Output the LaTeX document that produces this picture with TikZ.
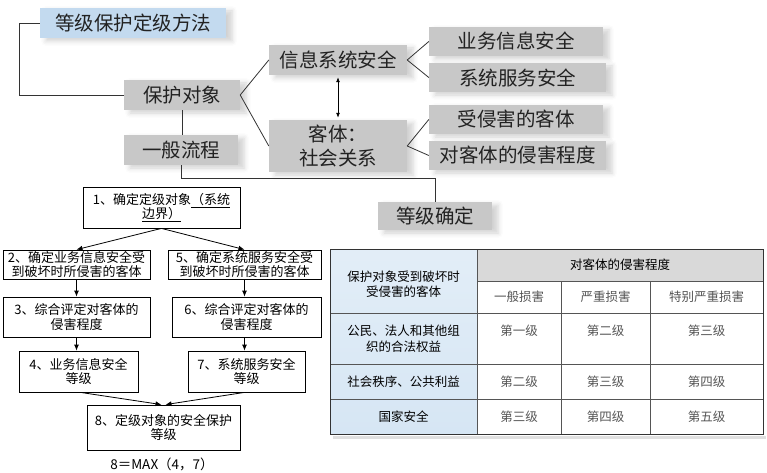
\documentclass[tikz,border=0pt]{standalone}
\usepackage{fontspec}
\setmainfont{Noto Sans CJK SC}
\usetikzlibrary{arrows.meta,shadows.blur,calc}
\definecolor{boxgray}{HTML}{C8C8C8}
\definecolor{titleblue}{HTML}{C3DAEF}
\definecolor{cellblue}{HTML}{D6E6F4}
\definecolor{headgray}{HTML}{D9D9D9}
\definecolor{valgray}{HTML}{555555}
\definecolor{linegray}{HTML}{333333}
\definecolor{textdark}{HTML}{222222}
\begin{document}
\begin{tikzpicture}[x=1pt,y=-1pt,
  gbox/.style={fill=boxgray, draw=none, inner sep=0pt, align=center, text=textdark,
    font=\fontsize{19.5}{24}\selectfont,
    blur shadow={shadow xshift=6pt, shadow yshift=-3pt, shadow opacity=18, shadow blur radius=5pt}},
  fbox/.style={draw=black, line width=0.8pt, fill=white, inner sep=0pt, align=center,
    font=\fontsize{13}{14.5}\selectfont},
  conn/.style={draw=linegray, line width=0.8pt},
  farrow/.style={draw=black, line width=0.8pt, -{Latex[length=6pt,width=5pt]}},
  tcell/.style={inner sep=0pt, align=center, font=\fontsize{12.5}{15.5}\selectfont},
  tval/.style={tcell, text=valgray},
  tline/.style={draw=valgray, line width=0.7pt}
]
\useasboundingbox (0,0) rectangle (767,473);

% ---------- top mind map ----------
\node[gbox, fill=titleblue, minimum width=186pt, minimum height=30pt] (title) at (133,23) {等级保护定级方法};
\node[gbox, minimum width=116pt, minimum height=30pt] (baohu) at (182,95) {保护对象};
\node[gbox, minimum width=114pt, minimum height=30pt] (yiban) at (181,150) {一般流程};
\node[gbox, minimum width=114pt, minimum height=28pt] (dengji) at (435,216) {等级确定};
\node[gbox, minimum width=138pt, minimum height=30pt] (xinxi) at (338,60) {信息系统安全};
\node[gbox, minimum width=138pt, minimum height=52pt] (keti) at (338,146) {客体：\\社会关系};
\node[gbox, minimum width=174pt, minimum height=29pt] (yewu) at (516,41.5) {业务信息安全};
\node[gbox, minimum width=177pt, minimum height=29pt] (fuwu) at (517.5,77.5) {系统服务安全};
\node[gbox, minimum width=174pt, minimum height=29pt] (shouqin) at (516,119.5) {受侵害的客体};
\node[gbox, minimum width=177pt, minimum height=29pt] (qinhai) at (517.5,155.5) {对客体的侵害程度};

\coordinate (turn) at (435,178);
\draw[conn] (title.west) -- ++(-20,0) |- (baohu.west);
\draw[conn] (baohu.south) -- (baohu.south |- yiban.north);
\draw[conn] (yiban.south) |- (turn) -- (dengji.north);
\draw[conn] (baohu.east) -- (xinxi.west);
\draw[conn] (baohu.east) -- (keti.west);
\draw[conn] (xinxi.east) -- (yewu.west);
\draw[conn] (xinxi.east) -- (fuwu.west);
\draw[conn] (keti.east) -- (shouqin.west);
\draw[conn] (keti.east) -- (qinhai.west);
\draw[draw=black, line width=0.8pt, {Latex[length=5pt,width=4pt]}-{Latex[length=5pt,width=4pt]}]
  ([yshift=-2pt]xinxi.south) -- ([yshift=2pt]keti.north);

% ---------- flowchart ----------
\node[fbox, minimum width=157pt, minimum height=41pt] (b1) at (161.5,207.5)
  {1、确定定级对象\underline{（系统}\\\underline{边界）}};
\node[fbox, minimum width=147pt, minimum height=29pt] (b2) at (76.5,264.5)
  {2、确定业务信息安全受\\到破坏时所侵害的客体};
\node[fbox, minimum width=153pt, minimum height=29pt] (b5) at (244.5,264.5)
  {5、确定系统服务安全受\\到破坏时所侵害的客体};
\node[fbox, minimum width=147pt, minimum height=40pt] (b3) at (76.5,317)
  {3、综合评定对客体的\\侵害程度};
\node[fbox, minimum width=149pt, minimum height=40pt] (b6) at (246.5,317)
  {6、综合评定对客体的\\侵害程度};
\node[fbox, minimum width=119pt, minimum height=41pt] (b4) at (78.5,371.5)
  {4、业务信息安全\\等级};
\node[fbox, minimum width=117pt, minimum height=41pt] (b7) at (246.5,371.5)
  {7、系统服务安全\\等级};
\node[fbox, minimum width=153pt, minimum height=45pt] (b8) at (163.5,427.5)
  {8、定级对象的安全保护\\等级};
\node[inner sep=0pt, font=\fontsize{13.5}{15}\selectfont] (formula) at (162,464) {8＝MAX（4，7）};

\draw[farrow] (b1.south) -- (b2.north);
\draw[farrow] (b1.south) -- (b5.north);
\draw[farrow] (b2.south) -- (b2.south |- b3.north);
\draw[farrow] (b5.south) -- (b5.south |- b6.north);
\draw[farrow] (b3.south) -- (b3.south |- b4.north);
\draw[farrow] (b5.south |- b6.south) -- (b5.south |- b7.north);
\draw[farrow] ([xshift=2pt]b4.south) -- ([xshift=-2pt]b8.north);
\draw[farrow] ([xshift=-2pt]b7.south) -- ([xshift=2pt]b8.north);

% ---------- table ----------
\fill[black, opacity=0.12] (333,436) rectangle (766,439);
\shade[top color=cellblue!70, bottom color=cellblue] (330,249) rectangle (477,434);
\fill[headgray] (477,249) rectangle (763,281);
\fill[white] (477,281) rectangle (763,434);
\draw[tline] (477,249) -- (477,434);
\draw[tline] (477,281) -- (763,281);
\draw[tline] (561,281) -- (561,434);
\draw[tline] (650,281) -- (650,434);
\draw[tline] (330,313) -- (763,313);
\draw[tline] (330,364) -- (763,364);
\draw[tline] (330,399) -- (763,399);
\draw[draw=linegray, line width=1pt] (330,249) rectangle (763,434);

\node[tcell] (h0) at (403.5,284) {保护对象受到破坏时\\受侵害的客体};
\node[tcell] (h1) at (620,265) {对客体的侵害程度};
\node[tval] (s1) at (519,297) {一般损害};
\node[tval] (s2) at (605.5,297) {严重损害};
\node[tval] (s3) at (706.5,297) {特别严重损害};

\node[tcell] (r1) at (403.5,339) {公民、法人和其他组\\织的合法权益};
\node[tval] (v11) at (519,331) {第一级};
\node[tval] (v12) at (605.5,331) {第二级};
\node[tval] (v13) at (706.5,331) {第三级};

\node[tcell] (r2) at (403.5,381.5) {社会秩序、公共利益};
\node[tval] (v21) at (519,381.5) {第二级};
\node[tval] (v22) at (605.5,381.5) {第三级};
\node[tval] (v23) at (706.5,381.5) {第四级};

\node[tcell] (r3) at (403.5,416.5) {国家安全};
\node[tval] (v31) at (519,416.5) {第三级};
\node[tval] (v32) at (605.5,416.5) {第四级};
\node[tval] (v33) at (706.5,416.5) {第五级};
\end{tikzpicture}
\end{document}
